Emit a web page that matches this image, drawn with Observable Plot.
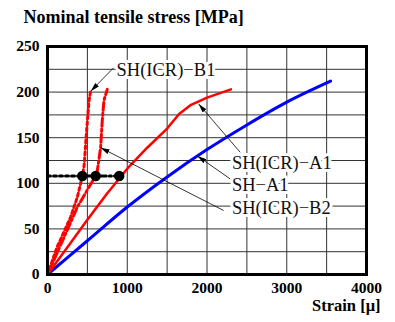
<!DOCTYPE html>
<html>
<head>
<meta charset="utf-8">
<script src="https://cdn.jsdelivr.net/npm/d3@7"></script>
<script src="https://cdn.jsdelivr.net/npm/@observablehq/plot@0.6"></script>
<style>
  html, body { margin: 0; padding: 0; background: #fff; }
</style>
</head>
<body>
<div id="chart"></div>
<script>
// ---- Data ----
const titleText = "Nominal tensile stress [MPa]";
const xLabelText = "Strain [\u03bc]";
const xTicks = [0, 1000, 2000, 3000, 4000];
const yTicks = [0, 50, 100, 150, 200, 250];
const xGrid = [500, 1000, 1500, 2000, 2500, 3000, 3500];
const yGrid = [25, 50, 75, 100, 125, 150, 175, 200, 225];

// SH-A1 (blue)
const strainSHA1 = [0, 500, 1000, 1500, 2000, 2500, 3000, 3550];
const stressSHA1 = [0, 37, 74, 107, 137, 164, 189, 212];
// SH(ICR)-A1 (red solid)
const strainA1 = [0, 250, 500, 750, 1000, 1250, 1500, 1650, 1800, 2000, 2300];
const stressA1 = [0, 30, 60, 89, 116, 139, 160, 176, 186, 194, 203];
// SH(ICR)-B1 (red dotted)
const strainB1 = [0, 120, 290, 375, 437, 460, 480, 500, 520, 542];
const stressB1 = [0, 30, 63, 85, 108, 120, 145, 168, 190, 202];
// SH(ICR)-B2 (red dash-dot)
const strainB2 = [0, 229, 375, 541, 604, 625, 666, 687, 708, 750];
const stressB2 = [0, 45, 74, 99, 108, 114, 139, 169, 191, 203];

// black markers at the crack stress
const markerStrain = [437, 604, 900];
const markerStress = [108, 108, 108];

// annotations
const labelNames = ["SH(ICR)\u2212B1", "SH(ICR)\u2212A1", "SH\u2212A1", "SH(ICR)\u2212B2"];
const labelX = [866, 2312, 2312, 2312];
const labelY = [223.7, 121.7, 97.6, 72.4];
const leaderX1 = [829, 2416, 2291, 2208];
const leaderY1 = [226.7, 134, 104.8, 70.2];
const leaderX2 = [542, 1895, 1880, 666];
const leaderY2 = [201, 187, 130, 139];

// ---- Build tables ----
const toPts = (xs, ys) => xs.map((x, i) => ({x, y: ys[i]}));
const blue = toPts(strainSHA1, stressSHA1);
const redA1 = toPts(strainA1, stressA1);
const redB1 = toPts(strainB1, stressB1);
const redB2 = toPts(strainB2, stressB2);
const dots = toPts(markerStrain, markerStress);
const crackDotted = [{x: 0, y: markerStress[0]}, {x: markerStrain[0], y: markerStress[0]}];
const crackDashDot = [{x: markerStrain[0], y: markerStress[0]}, {x: markerStrain[2], y: markerStress[2]}];
const labels = labelNames.map((t, i) => ({t, x: labelX[i], y: labelY[i]}));
const leaders = labelNames.map((t, i) => ({x1: leaderX1[i], y1: leaderY1[i], x2: leaderX2[i], y2: leaderY2[i]}));

const serif = "'Liberation Serif', 'DejaVu Serif', serif";

const chart = Plot.plot({
  width: 395,
  height: 322,
  marginLeft: 47,
  marginRight: 29,
  marginTop: 46,
  marginBottom: 48,
  style: {fontFamily: serif, fontSize: "15.5px", fontWeight: "bold", color: "#000", background: "#fff"},
  x: {domain: [0, 4000], ticks: xTicks, tickSize: 0, tickPadding: 7, label: null, tickFormat: d => String(d)},
  y: {domain: [0, 250], ticks: yTicks, tickSize: 0, tickPadding: 8, label: null, tickFormat: d => String(d)},
  marks: [
    Plot.ruleX(xGrid, {stroke: "#333", strokeWidth: 1}),
    Plot.ruleY(yGrid, {stroke: "#333", strokeWidth: 1}),
    Plot.line(blue, {x: "x", y: "y", stroke: "#0000ff", strokeWidth: 3, curve: "monotone-x"}),
    Plot.line(redA1, {x: "x", y: "y", stroke: "#ff0000", strokeWidth: 2.5}),
    Plot.line(redB1, {x: "x", y: "y", stroke: "#ff0000", strokeWidth: 3, strokeDasharray: "3,3"}),
    Plot.line(redB2, {x: "x", y: "y", stroke: "#ff0000", strokeWidth: 3, strokeDasharray: "8,3,2,3"}),
    Plot.line(crackDotted, {x: "x", y: "y", stroke: "#000", strokeWidth: 3, strokeDasharray: "3,3"}),
    Plot.line(crackDashDot, {x: "x", y: "y", stroke: "#000", strokeWidth: 3, strokeDasharray: "8,3,2,3"}),
    Plot.dot(dots, {x: "x", y: "y", r: 5.2, fill: "#000", stroke: "none"}),
    Plot.text(labels, {x: "x", y: "y", text: "t", textAnchor: "start", fontSize: 18.5, fontWeight: "normal",
      fill: "#111", stroke: "white", strokeWidth: 6, fontFamily: serif}),
    Plot.link(leaders, {x1: "x1", y1: "y1", x2: "x2", y2: "y2", stroke: "#000", strokeWidth: 0.8}),
    Plot.frame({stroke: "#000", strokeWidth: 3}),
    Plot.text([titleText], {frameAnchor: "top-left", textAnchor: "start", lineAnchor: "bottom",
      dx: -24, dy: -23.5, fontSize: 18, fontWeight: "bold", fill: "#000", fontFamily: serif}),
    Plot.text([xLabelText], {frameAnchor: "bottom-right", textAnchor: "end", lineAnchor: "bottom",
      dx: 14, dy: 36, fontSize: 16.5, fontWeight: "bold", fill: "#000", fontFamily: serif})
  ]
});

// filled arrowheads on the leader lines
const svg = d3.select(chart);
const defs = svg.append("defs");
defs.append("marker")
  .attr("id", "ahead")
  .attr("viewBox", "0 0 10 10")
  .attr("refX", 10).attr("refY", 5)
  .attr("markerWidth", 9).attr("markerHeight", 5)
  .attr("markerUnits", "userSpaceOnUse")
  .attr("preserveAspectRatio", "none")
  .attr("orient", "auto")
  .append("path").attr("d", "M0,0L10,5L0,10Z").attr("fill", "#000");
svg.selectAll('g[aria-label="link"] path').attr("marker-end", "url(#ahead)");

document.getElementById("chart").appendChild(chart);
</script>
</body>
</html>
